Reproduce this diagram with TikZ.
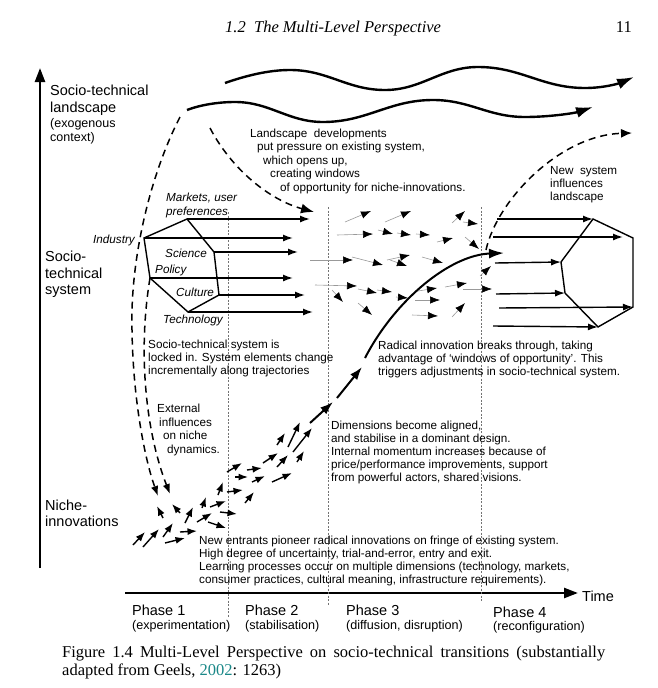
\documentclass[tikz,border=0pt]{standalone}
\usepackage{fontspec}
\setmainfont{Liberation Sans}
\newfontfamily\capserif{Liberation Serif}
\usetikzlibrary{arrows.meta}
\definecolor{citeteal}{RGB}{25,135,135}
\newcommand\myfs[2]{\fontsize{#1}{#2}\selectfont}
\begin{document}
\begin{tikzpicture}[x=1pt,y=-1pt,
  txtlab/.style={anchor=north west,inner sep=0pt,align=left},
  annot/.style={txtlab,font=\myfs{11.7}{13}},
  lvltxt/.style={txtlab,font=\myfs{14.5}{16.5}},
  subtxt/.style={txtlab,font=\myfs{12.5}{14}},
  dimtxt/.style={inner sep=0pt,font=\myfs{11.7}{14}\itshape},
  phasetxt/.style={anchor=west,inner sep=0pt,font=\myfs{14.5}{17}},
  phasesub/.style={anchor=west,inner sep=0pt,font=\myfs{12.6}{15}},
  axisline/.style={line width=2.4pt,-{Triangle[length=14pt,width=10pt]}},
  waveline/.style={line width=2.4pt,-{Latex[length=17pt,width=11pt]}},
  dashline/.style={line width=1.5pt,dash pattern=on 7pt off 5pt},
  hexedge/.style={line width=1.4pt,line join=miter},
  hexarrow/.style={line width=1.4pt,-{Latex[length=10pt,width=7pt]}},
  flowarrow/.style={black!40,line width=0.6pt,-{Latex[length=10pt,width=7.5pt,color=black]}},
  nichearrow/.style={line width=1.4pt,-{Latex[length=9.5pt,width=7pt]}},
  phasegrid/.style={black!55,line width=0.5pt,dash pattern=on 2pt off 1.5pt},
  surgearrow/.style={line width=2pt,-{Latex[length=13pt,width=9pt]}},
]
\useasboundingbox (0,0) rectangle (658,688);

% header
\node[anchor=base west,inner sep=0pt,font=\capserif\itshape\myfs{16.5}{18}] (hdr) at (225,32) {1.2\hspace{0.5em}The Multi-Level Perspective};
\node[anchor=base east,inner sep=0pt,font=\capserif\myfs{16.5}{18}] (pgno) at (632,32) {11};

% axes
\coordinate (yb) at (40,568); \coordinate (yt) at (40,68);
\draw[axisline] (yb) -- (yt);
\coordinate (xl) at (125,593); \coordinate (xr) at (578,593);
\draw[axisline] (xl) -- (xr);

% phase separators
\draw[phasegrid] (228,212) -- (228,618);
\draw[phasegrid] (328,207) -- (328,605);
\draw[phasegrid] (481,207) -- (481,602);

% landscape waves
\draw[waveline] (225,83) .. controls (245,76) and (268,70) .. (290,70)
  .. controls (328,70) and (347,90) .. (385,90)
  .. controls (422,90) and (441,67) .. (478,67)
  .. controls (521,67) and (542,88) .. (585,88)
  .. controls (605,88) and (620,83) .. (634,77);
\draw[waveline] (187,110) .. controls (200,105) and (218,102) .. (235,102)
  .. controls (270,102) and (288,122) .. (323,122)
  .. controls (367,122) and (389,100) .. (433,100)
  .. controls (470,100) and (488,117) .. (525,117)
  .. controls (550,117) and (575,113) .. (593,107);

% left hexagon (regime)
\coordinate (L1) at (187,219); \coordinate (L2) at (214,252);
\coordinate (L3) at (219,295); \coordinate (L4) at (188,312);
\coordinate (L5) at (150,278); \coordinate (L6) at (144,238);
\draw[hexedge] (L1) -- (L2) -- (L3) -- (L4) -- (L5) -- (L6) -- cycle;
\draw[hexarrow] (L1) -- (310,219);
\draw[hexarrow] (L6) -- (293,238);
\draw[hexarrow] (L2) -- (298,252);
\draw[hexarrow] (L5) -- (293,278);
\draw[hexarrow] (L3) -- (305,295);
\draw[hexarrow] (L4) -- (313,312);

% right hexagon (new regime)
\coordinate (R1) at (593,219); \coordinate (R2) at (633,238);
\coordinate (R3) at (633,307); \coordinate (R4) at (598,327);
\coordinate (R5) at (565,293); \coordinate (R6) at (561,262);
\draw[hexedge] (R1) -- (R2) -- (R3) -- (R4) -- (R5) -- (R6) -- cycle;
\draw[hexarrow] (497,219) -- (R1);
\draw[hexarrow] (493,237) -- (623,237);
\draw[hexarrow] (495,263) -- (R6);
\draw[hexarrow] (496,294) -- (R5);
\draw[hexarrow] (499,308) -- (R3);
\draw[hexarrow] (493,326) -- (R4);

% dashed influences
\draw[dashline,-{Latex[length=13pt,width=10pt]}] (210,128) .. controls (232,170) and (270,200) .. (314,212);
\draw[dashline,-{Latex[length=11pt,width=9pt]}] (486,250) .. controls (497,200) and (560,135) .. (632,133);
\draw[dashline,-{Latex[length=10pt,width=7.5pt]}] (180,117) .. controls (150,175) and (130,260) .. (132,330)
  .. controls (133,400) and (145,460) .. (158,496);
\draw[dashline,-{Latex[length=10pt,width=7.5pt]}] (L5) .. controls (138,350) and (145,430) .. (170,494);

% small flow arrows in the regime
\foreach \a/\b/\c/\d in {345/222/371/211, 385/222/411/211, 337/235/373/234, 378/230/393/234,
  397/233/411/235, 416/234/430/235, 437/242/453/238, 452/223/465/211, 463/222/478/224,
  465/237/479/249, 310/260/353/260, 352/257/383/265, 387/260/410/255, 390/260/407/266,
  422/257/443/263, 315/285/357/286, 332/290/343/302, 358/289/377/293, 377/290/392/292,
  358/303/372/315, 418/291/437/288, 415/300/440/300, 445/287/467/283, 412/315/438/316,
  452/317/465/303, 463/289/492/289, 480/276/491/266, 396/297/408/298}
  {\draw[flowarrow] (\a,\b) -- (\c,\d);}

% niche arrows
\foreach \a/\b/\c/\d in {133/545/145/532, 143/547/159/529, 163/537/173/523, 165/543/185/538,
  180/532/197/531, 163/518/157/506, 180/513/172/504, 185/523/193/507, 197/522/212/513,
  202/508/206/497, 210/507/226/501, 208/522/226/528, 220/512/237/514, 218/495/223/482,
  227/492/243/490, 245/503/254/492, 227/472/242/463, 235/477/248/477, 247/470/262/468,
  252/482/265/476, 263/463/278/453, 272/482/292/473, 277/467/288/455, 277/445/285/433,
  288/447/300/422, 293/452/312/428, 297/462/304/451}
  {\draw[nichearrow] (\a,\b) -- (\c,\d);}

% breakthrough trajectory
\coordinate (s0) at (310,423); \coordinate (s1) at (333,402);
\coordinate (s2) at (337,398); \coordinate (s3) at (362,367);
\coordinate (c0) at (365,358); \coordinate (c1) at (504,253);
\draw[surgearrow] (s0) -- (s1);
\draw[surgearrow] (s2) -- (s3);
\draw[line width=2pt,-{Latex[length=15pt,width=10pt]}] (c0) .. controls (395,300) and (450,255) .. (c1);

% level labels
\node[lvltxt] (land) at (50,84.8) {Socio-technical\\landscape};
\node[subtxt] (exo) at (50,118.5) {(exogenous\\context)};
\node[lvltxt] (regime) at (45,250.8) {Socio-\\technical\\system};
\node[lvltxt,font=\myfs{14.5}{16}] (nicheL) at (45,499.8) {Niche-\\innovations};

% regime dimensions
\node[dimtxt,anchor=north west,align=left] (mkt) at (166,192.6) {Markets, user\\preferences};
\node[dimtxt,anchor=east] (ind) at (135,240) {Industry};
\node[dimtxt,anchor=west] (sci) at (165,253) {Science};
\node[dimtxt,anchor=west] (pol) at (155,270) {Policy};
\node[dimtxt,anchor=west] (cul) at (176,292) {Culture};
\node[dimtxt,anchor=west] (tech) at (163,320) {Technology};

% annotations
\node[annot,font=\myfs{11.7}{13.5}] (press) at (250,128.8) {Landscape\ \ developments\\\hspace*{7pt}put pressure on existing system,\\\hspace*{13pt}which opens up,\\\hspace*{20pt}creating windows\\\hspace*{30pt}of opportunity for niche-innovations.};
\node[annot,font=\myfs{11.7}{13.3}] (newsys) at (550,165.8) {New\ \ system\\influences\\landscape};
\node[annot] (locked) at (148,339.8) {Socio-technical system is\\locked in. System elements change\\incrementally along trajectories};
\node[annot] (radical) at (378,340.8) {Radical innovation breaks through, taking\\advantage of ‘windows of opportunity’. This\\triggers adjustments in socio-technical system.};
\node[annot,font=\myfs{11.7}{13.7}] (ext) at (157,403.8) {External\\\hspace*{2pt}influences\\\hspace*{6pt}on niche\\\hspace*{10pt}dynamics.};
\node[annot] (dims) at (331,420.8) {Dimensions become aligned,\\and stabilise in a dominant design.\\Internal momentum increases because of\\price/performance improvements, support\\from powerful actors, shared visions.};
\node[annot] (entr) at (199,535.8) {New entrants pioneer radical innovations on fringe of existing system.\\High degree of uncertainty, trial-and-error, entry and exit.\\Learning processes occur on multiple dimensions (technology, markets,\\consumer practices, cultural meaning, infrastructure requirements).};

% time axis labels
\node[phasetxt] (time) at (582,596) {Time};
\node[phasetxt] (p1) at (132,610) {Phase 1};
\node[phasesub] (p1s) at (132,626) {(experimentation)};
\node[phasetxt] (p2) at (245,610) {Phase 2};
\node[phasesub] (p2s) at (245,626) {(stabilisation)};
\node[phasetxt] (p3) at (346,610) {Phase 3};
\node[phasesub] (p3s) at (346,626) {(diffusion, disruption)};
\node[phasetxt] (p4) at (493,612) {Phase 4};
\node[phasesub] (p4s) at (493,627) {(reconfiguration)};

% caption
\node[txtlab,font=\capserif\myfs{16.5}{18}] (cap) at (62,646) {\makebox[543pt][s]{Figure 1.4 Multi-Level Perspective on socio-technical transitions (substantially}\\adapted from Geels, \textcolor{citeteal}{2002}: 1263)};
\end{tikzpicture}
\end{document}
